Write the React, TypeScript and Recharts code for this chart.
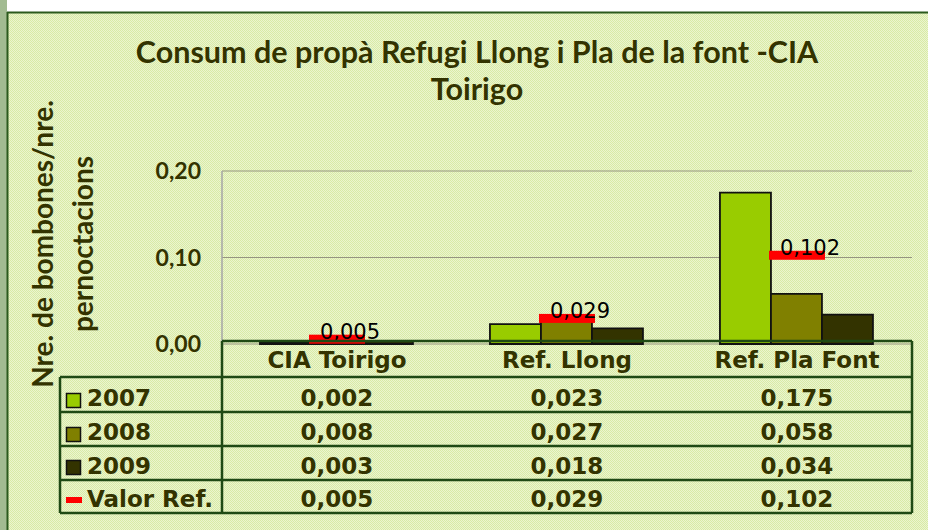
import React from 'react';
import { ComposedChart, Bar, Line, XAxis, YAxis, CartesianGrid, Legend } from 'recharts';

const categories = ['CIA Toirigo', 'Ref. Llong', 'Ref. Pla Font'];
const values2007 = [0.002, 0.023, 0.175];
const values2008 = [0.008, 0.027, 0.058];
const values2009 = [0.003, 0.018, 0.034];
const refValues = [0.005, 0.029, 0.102];
const yTicks = [0, 0.1, 0.2];
const seriesNames = ['2007', '2008', '2009', 'Valor Ref.'];
const seriesColors = ['#99cc00', '#808000', '#333300', '#ff0000'];
const titleLines = ['Consum de propà Refugi Llong i Pla de la font -CIA', 'Toirigo'];
const yTitleLines = ['Nre. de bombones/nre.', 'pernoctacions'];

const seriesValues = [values2007, values2008, values2009, refValues];

const data = categories.map((c, i) => ({
  name: c,
  s2007: values2007[i],
  s2008: values2008[i],
  s2009: values2009[i],
  refVal: refValues[i],
}));

const TEXT = '#333300';
const LINE = '#1f4a14';
const VERDANA = 'Verdana, "DejaVu Sans", sans-serif';
const CALIBRI = 'Lato, "Open Sans", sans-serif';

const fmt3 = (v: number) => v.toFixed(3).replace('.', ',');
const fmt2 = (v: number) => v.toFixed(2).replace('.', ',');

const ROW_BASE = [406, 440, 474, 507];

const renderXTick = (props: any) => {
  const { x, payload } = props;
  const idx = categories.indexOf(payload.value);
  return (
    <g>
      <text x={x} y={368} textAnchor="middle" fontFamily={VERDANA} fontWeight="bold" fontSize={23} fill={TEXT}>
        {payload.value}
      </text>
      {seriesValues.map((arr, r) => (
        <text key={r} x={x} y={ROW_BASE[r]} textAnchor="middle" fontFamily={VERDANA} fontWeight="bold" fontSize={23} fill={TEXT}>
          {fmt3(arr[idx])}
        </text>
      ))}
    </g>
  );
};

const renderYTick = (props: any) => {
  const { y, payload } = props;
  return (
    <text x={201} y={y + 8} textAnchor="end" fontFamily={CALIBRI} fontWeight="bold" fontSize={23} fill={TEXT}>
      {fmt2(payload.value)}
    </text>
  );
};

const renderRefDot = (props: any) => {
  const { cx, cy, index } = props;
  if (cx == null || cy == null) return <g key={`d${index}`} />;
  return <rect key={`d${index}`} x={cx - 28} y={cy - 5} width={56} height={9} fill="#ff0000" />;
};

const renderRefLabel = (props: any) => {
  const { x, y, value, index } = props;
  return (
    <text key={`l${index}`} x={x + 13} y={y - 1} textAnchor="middle" fontFamily={VERDANA} fontSize={21} fill="#000">
      {fmt3(Number(value))}
    </text>
  );
};

const renderLegend = (props: any) => {
  const { payload } = props;
  const rows = [16, 50, 83, 120];
  const base = [29, 63, 97, 130];
  return (
    <svg width={162} height={136} style={{ display: 'block' }}>
      {(payload || []).map((e: any, i: number) => {
        const idx = seriesNames.indexOf(String(e.value));
        const color = seriesColors[idx];
        return (
          <g key={i}>
            {e.type === 'line' ? (
              <rect x={6} y={rows[i]} width={16} height={6} fill={color} />
            ) : (
              <rect x={6.5} y={rows[i] + 0.5} width={14} height={14} fill={color} stroke="#111" strokeWidth={1.5} />
            )}
            <text x={27} y={base[i]} fontFamily={VERDANA} fontWeight="bold" fontSize={23} fill={TEXT}>
              {e.value}
            </text>
          </g>
        );
      })}
    </svg>
  );
};

export default function App() {
  return (
    <div style={{ position: 'absolute', left: 0, top: 0, width: 928, height: 530, overflow: 'hidden', background: '#fff' }}>
      <svg width={928} height={530} style={{ position: 'absolute', left: 0, top: 0 }}>
        <defs>
          <pattern id="tex" width={2} height={2} patternUnits="userSpaceOnUse">
            <rect x={0} y={0} width={2} height={2} fill="#ebf5cf" />
            <rect x={0} y={0} width={1} height={1} fill="#d8eaa6" />
            <rect x={1} y={1} width={1} height={1} fill="#d8eaa6" />
          </pattern>
        </defs>
        <rect x={0} y={0} width={7} height={530} fill="#a2bb91" />
        <rect x={7} y={12} width={921} height={518} fill="url(#tex)" />
        <line x1={7} y1={12.5} x2={928} y2={12.5} stroke="#2b5a1d" strokeWidth={2} />
        <line x1={7.5} y1={12} x2={7.5} y2={530} stroke="#2b5a1d" strokeWidth={2} />
        <text x={477} y={63} textAnchor="middle" fontFamily={CALIBRI} fontWeight="bold" fontSize={30.5} fill={TEXT}>
          {titleLines[0]}
        </text>
        <text x={477} y={100} textAnchor="middle" fontFamily={CALIBRI} fontWeight="bold" fontSize={30.5} fill={TEXT}>
          {titleLines[1]}
        </text>
        <text x={53} y={244} transform="rotate(-90, 53, 244)" textAnchor="middle" fontFamily={CALIBRI} fontWeight="bold" fontSize={28} fill={TEXT}>
          {yTitleLines[0]}
        </text>
        <text x={93} y={244} transform="rotate(-90, 93, 244)" textAnchor="middle" fontFamily={CALIBRI} fontWeight="bold" fontSize={28} fill={TEXT}>
          {yTitleLines[1]}
        </text>
      </svg>
      <div style={{ position: 'absolute', left: 0, top: 0 }}>
        <ComposedChart
          width={928}
          height={530}
          data={data}
          margin={{ top: 171, right: 16, bottom: 16, left: 162 }}
          barCategoryGap="16.5%"
          barGap={0}
        >
          <CartesianGrid vertical={false} stroke="#959580" strokeWidth={1.2} />
          <XAxis dataKey="name" height={170} axisLine={false} tickLine={false} tick={renderXTick} interval={0} />
          <YAxis
            width={60}
            domain={[0, 0.2]}
            ticks={yTicks}
            axisLine={{ stroke: '#a6a6a6', strokeWidth: 1.5 }}
            tickLine={false}
            tick={renderYTick}
          />
          <Legend
            layout="vertical"
            align="center"
            verticalAlign="middle"
            content={renderLegend}
            wrapperStyle={{ position: 'absolute', left: 60, top: 377, width: 162, height: 136 }}
          />
          <Bar dataKey="s2007" name={seriesNames[0]} fill={seriesColors[0]} stroke="#111" strokeWidth={1.8} isAnimationActive={false} />
          <Bar dataKey="s2008" name={seriesNames[1]} fill={seriesColors[1]} stroke="#111" strokeWidth={1.8} isAnimationActive={false} />
          <Bar dataKey="s2009" name={seriesNames[2]} fill={seriesColors[2]} stroke="#111" strokeWidth={1.8} isAnimationActive={false} />
          <Line
            dataKey="refVal"
            name={seriesNames[3]}
            stroke={seriesColors[3]}
            strokeOpacity={0}
            dot={renderRefDot}
            activeDot={false}
            label={renderRefLabel}
            isAnimationActive={false}
          />
        </ComposedChart>
      </div>
      <svg width={928} height={530} style={{ position: 'absolute', left: 0, top: 0, pointerEvents: 'none' }}>
        <g stroke={LINE} strokeWidth={2.5} fill="none">
          <line x1={222} y1={341} x2={912} y2={341} />
          <line x1={912} y1={341} x2={912} y2={513} />
          <line x1={222} y1={341} x2={222} y2={513} />
          <line x1={60} y1={377} x2={60} y2={513} />
          <line x1={60} y1={377} x2={912} y2={377} />
          <line x1={60} y1={412} x2={912} y2={412} />
          <line x1={60} y1={446} x2={912} y2={446} />
          <line x1={60} y1={480} x2={912} y2={480} />
          <line x1={60} y1={513} x2={912} y2={513} />
        </g>
      </svg>
    </div>
  );
}
